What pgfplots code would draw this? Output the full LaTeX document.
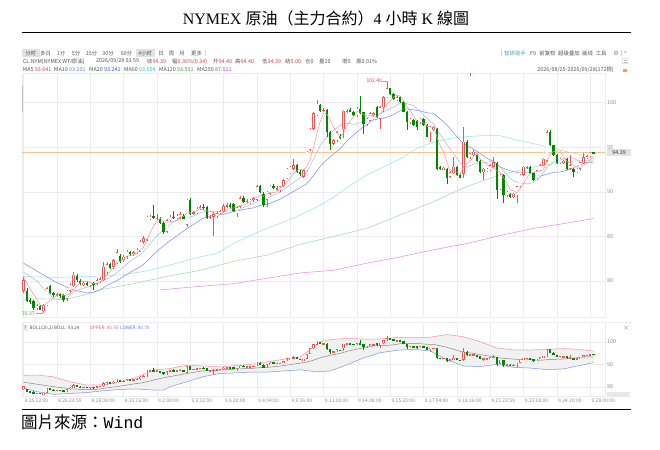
\documentclass[border=0pt]{standalone}
\usepackage{fontspec}
\usepackage{pgfplots}
\usepackage{pgfplotstable}
\pgfplotsset{compat=1.18}

\setmainfont{Noto Sans CJK SC}
\newfontfamily\tcfont{Noto Sans CJK TC}
\newfontfamily\latserif{Liberation Serif}
\newfontfamily\latmono{Liberation Mono}
\newfontfamily\symf{DejaVu Sans}
\newcommand{\sm}{\fontsize{5.4}{6.4}\selectfont}

\definecolor{upred}{RGB}{236,88,88}
\definecolor{dngreen}{RGB}{0,135,0}
\definecolor{gridc}{RGB}{236,236,236}
\definecolor{tickc}{RGB}{140,140,140}
\definecolor{txtc}{RGB}{85,85,85}
\definecolor{valred}{RGB}{226,60,60}
\definecolor{maA}{RGB}{242,150,150}
\definecolor{maB}{RGB}{165,188,222}
\definecolor{maC}{RGB}{120,138,236}
\definecolor{maD}{RGB}{150,226,242}
\definecolor{maE}{RGB}{160,216,160}
\definecolor{maF}{RGB}{226,135,238}
\definecolor{vB}{RGB}{90,143,220}
\definecolor{vC}{RGB}{45,80,240}
\definecolor{vD}{RGB}{40,190,228}
\definecolor{vE}{RGB}{50,170,50}
\definecolor{vF}{RGB}{208,60,224}
\definecolor{pricec}{RGB}{250,196,140}
\definecolor{bup}{RGB}{240,150,160}
\definecolor{blo}{RGB}{125,148,240}
\definecolor{bmid}{RGB}{135,135,135}
\definecolor{bfill}{RGB}{241,241,241}
\definecolor{tabbg}{RGB}{226,226,226}
\definecolor{helpc}{RGB}{70,165,200}
\definecolor{lowc}{RGB}{70,165,70}

% 4h candles: index, open, high, low, close
\pgfplotstableread{
x o h l c
0 78.9 80.5 78.6 80.1
1 78.9 79.2 77.6 77.8
2 77.9 78.1 77.4 77.7
3 77.7 77.9 76.8 77.0
4 77.0 77.4 76.8 77.2
5 77.2 77.3 76.7 76.8
6 76.6 77.4 76.37 77.3
7 77.3 79.3 77.2 79.2
8 79.4 79.6 78.5 78.6
9 78.6 78.8 78.2 78.4
10 78.4 78.7 78.2 78.5
11 78.5 78.6 78.1 78.3
12 78.4 78.5 77.6 77.9
13 78.0 79.0 77.8 78.9
14 78.9 79.8 78.7 79.6
15 79.4 81.0 79.3 80.7
16 80.6 80.8 79.9 80.1
17 80.0 80.2 79.6 79.7
18 79.6 80.0 79.4 79.8
19 79.8 80.0 79.4 79.6
20 79.6 79.9 79.3 79.8
21 79.8 79.9 79.0 79.5
22 79.7 80.3 79.5 80.1
23 80.0 80.4 79.8 80.2
24 80.1 82.1 80.0 81.6
25 81.0 82.1 80.8 81.9
26 81.9 82.0 81.3 81.5
27 81.6 82.5 81.4 82.3
28 82.0 83.6 81.9 83.2
29 82.8 83.0 82.0 82.2
30 82.3 82.9 82.1 82.7
31 82.7 83.5 82.5 83.3
32 83.3 83.4 82.8 83.0
33 83.0 83.4 82.8 83.2
34 83.1 83.7 83.0 83.5
35 83.3 84.6 83.2 84.4
36 84.4 85.0 84.2 84.8
37 84.6 87.3 84.5 87.2
38 87.0 87.4 86.8 87.2
39 87.3 88.5 86.9 87.1
40 87.0 87.5 86.8 87.1
41 87.0 87.2 86.4 86.5
42 86.5 86.7 85.3 85.5
43 85.5 87.0 85.4 86.8
44 86.8 87.4 86.6 87.2
45 87.2 87.9 87.0 87.1
46 87.1 87.5 86.9 87.3
47 87.1 87.7 87.0 87.5
48 87.3 87.5 86.9 87.0
49 86.3 89.2 86.0 89.1
50 89.1 89.3 87.4 87.5
51 87.6 87.9 87.4 87.7
52 87.6 88.3 87.5 88.1
53 88.1 88.5 88.0 88.3
54 88.3 88.6 88.0 88.2
55 88.3 88.4 86.9 87.1
56 87.1 87.4 86.9 87.2
57 87.2 87.7 85.1 87.5
58 87.3 87.8 87.1 87.6
59 87.6 88.0 87.5 87.8
60 87.8 88.6 87.6 88.4
61 88.4 88.7 88.2 88.5
62 88.5 88.7 88.2 88.4
63 88.6 88.8 87.7 87.8
64 87.6 88.4 87.2 88.3
65 88.3 89.5 88.2 89.3
66 89.3 89.5 88.8 88.9
67 88.9 89.2 88.7 89.0
68 88.7 89.2 88.6 89.1
69 89.1 89.4 88.9 89.3
70 89.1 90.8 89.0 90.6
71 90.6 90.8 89.9 90.0
72 89.8 90.0 88.3 88.5
73 89.1 90.1 88.3 90.0
74 89.8 90.8 89.7 90.7
75 90.7 90.9 90.3 90.4
76 90.3 90.6 90.1 90.4
77 90.2 90.7 90.0 90.6
78 90.6 91.4 90.5 91.3
79 91.5 92.7 91.4 92.6
80 92.1 92.9 92.0 92.8
81 92.6 93.7 92.5 93.0
82 93.0 93.1 92.1 92.2
83 92.2 92.4 91.8 92.0
84 91.7 92.5 91.5 92.4
85 92.4 94.6 92.3 94.5
86 94.7 97.2 94.6 97.1
87 97.1 98.9 96.9 98.8
88 98.6 100.3 98.5 99.9
89 99.7 99.9 99.0 99.1
90 99.1 99.4 98.9 99.2
91 99.2 99.3 96.2 96.7
92 96.7 96.8 94.7 95.4
93 95.4 95.9 95.2 95.8
94 95.8 96.8 95.6 96.7
95 96.3 96.5 95.9 96.0
96 97.0 99.2 96.0 99.1
97 99.0 99.3 98.8 99.1
98 99.2 99.4 98.9 99.0
99 99.0 99.1 98.5 98.6
100 98.6 99.5 98.4 99.3
101 99.3 100.7 98.7 98.8
102 98.9 99.0 96.5 97.6
103 97.6 98.3 97.4 98.2
104 98.0 98.9 97.9 98.8
105 98.6 98.9 98.4 98.8
106 99.5 99.6 98.3 98.4
107 98.2 99.6 97.1 99.5
108 99.5 100.7 99.0 100.6
109 100.6 102.4 100.5 101.6
110 101.6 101.7 100.9 101.0
111 101.0 101.1 100.3 100.4
112 100.3 100.7 100.2 100.6
113 100.6 100.7 100.0 100.1
114 100.1 100.2 98.9 99.0
115 99.0 99.1 96.9 97.8
116 97.8 98.3 97.6 98.2
117 98.1 98.2 97.4 97.5
118 98.0 98.1 96.9 97.3
119 97.8 98.3 97.6 98.2
120 98.2 98.3 97.4 97.5
121 97.5 97.6 96.1 96.2
122 96.7 97.4 95.6 97.3
123 96.9 97.4 96.8 97.3
124 97.1 97.2 92.5 92.6
125 92.8 92.9 92.5 92.6
126 92.5 92.8 92.4 92.7
127 92.6 92.7 90.9 91.5
128 91.7 92.3 91.5 92.2
129 92.1 93.9 92.0 92.8
130 92.8 92.9 91.8 91.9
131 91.9 92.0 91.5 91.6
132 92.0 97.3 91.5 95.6
133 95.6 95.8 93.8 93.9
134 93.9 94.4 93.7 94.3
135 94.1 94.7 94.0 94.5
136 94.1 94.2 93.4 93.5
137 93.5 93.6 92.1 92.2
138 92.2 92.7 91.3 92.6
139 92.3 92.7 92.2 92.6
140 92.4 93.1 92.3 93.0
141 92.8 93.9 92.7 93.3
142 93.2 93.3 89.25 90.2
143 90.3 92.0 90.2 91.9
144 91.9 92.0 88.7 89.6
145 89.6 90.1 89.4 90.0
146 89.8 89.9 89.3 89.4
147 89.4 89.9 89.3 89.8
148 89.6 90.7 88.8 90.6
149 90.6 92.0 90.5 91.9
150 91.9 92.9 91.8 92.8
151 92.7 92.9 92.6 92.8
152 92.8 92.9 92.0 92.1
153 92.1 92.2 91.2 91.3
154 91.5 92.5 91.4 92.4
155 92.4 93.1 92.3 93.0
156 93.0 93.8 92.9 93.7
157 93.5 96.9 93.4 96.7
158 96.7 96.9 95.1 95.2
159 95.2 95.3 94.0 94.1
160 94.1 94.2 93.1 93.2
161 93.2 93.8 93.1 93.7
162 93.2 93.6 93.1 93.5
163 93.7 93.8 92.4 92.6
164 92.6 94.1 92.5 93.0
165 92.6 92.7 91.7 92.2
166 92.2 92.7 92.1 92.6
167 92.6 93.4 92.5 93.3
168 93.2 94.3 93.1 93.9
169 93.8 94.1 93.7 94.0
170 94.0 94.5 93.9 94.4
171 94.40 94.40 94.39 94.39
}\kline

\pgfplotstableread{
x y
0 80.5
2 79.1
4 77.96
5 77.30
6 77.20
7 77.50
8 77.82
9 78.06
10 78.40
11 78.60
12 78.34
13 78.40
14 78.64
15 79.08
16 79.44
17 79.80
18 79.98
19 79.98
20 79.80
21 79.68
22 79.76
23 79.84
24 80.24
25 80.66
26 81.06
27 81.50
28 82.10
29 82.22
30 82.38
31 82.74
32 82.88
33 82.88
34 83.14
35 83.48
36 83.78
37 84.62
38 85.42
39 86.14
40 86.68
41 87.02
42 86.68
43 86.60
44 86.62
45 86.62
46 86.78
47 87.18
48 87.22
49 87.60
50 87.68
51 87.76
52 87.88
53 88.14
54 87.96
55 87.88
56 87.78
57 87.66
58 87.52
59 87.44
60 87.70
61 87.96
62 88.14
63 88.18
64 88.28
65 88.46
66 88.54
67 88.66
68 88.92
69 89.12
70 89.38
71 89.60
72 89.50
73 89.68
74 89.96
75 89.92
76 90.00
77 90.42
78 90.68
79 91.06
80 91.54
81 92.06
82 92.38
83 92.52
84 92.48
85 92.82
86 93.64
87 94.96
88 96.54
89 97.88
90 98.82
91 98.74
92 98.06
93 97.24
94 96.76
95 96.12
96 96.60
97 97.34
98 97.98
99 98.36
100 99.02
101 98.96
102 98.66
103 98.50
104 98.54
105 98.44
106 98.36
107 98.74
108 99.22
109 99.78
110 100.22
111 100.62
112 100.84
113 100.74
114 100.22
115 99.58
116 99.14
117 98.52
118 97.96
119 97.80
120 97.74
121 97.34
122 97.30
123 97.30
124 96.18
125 95.20
126 94.50
127 93.34
128 92.32
129 92.36
130 92.22
131 92.00
132 92.82
133 93.16
134 93.46
135 93.98
136 94.36
137 93.68
138 93.42
139 93.08
140 92.78
141 92.74
142 92.34
143 92.20
144 91.60
145 91.00
146 90.22
147 90.14
148 89.88
149 90.34
150 90.90
151 91.58
152 92.04
153 92.18
154 92.28
155 92.32
156 92.50
157 93.42
158 94.20
159 94.54
160 94.58
161 94.58
162 93.94
163 93.42
164 93.20
165 93.00
166 92.78
167 92.74
168 93.00
169 93.20
170 93.64
171 94.00
}\maFive

\pgfplotstableread{
x y
0 81.0
4 80.0
7 78.8
9 78.01
11 77.90
13 78.11
15 78.74
17 79.07
19 79.31
21 79.56
23 79.91
25 80.23
27 80.63
29 81.23
31 81.90
33 82.49
35 82.93
37 83.75
39 84.64
41 85.40
43 86.01
45 86.65
47 86.93
49 87.11
51 87.27
53 87.68
55 87.78
57 87.77
59 87.70
61 87.87
63 87.85
65 88.08
67 88.40
69 88.70
71 89.07
73 89.30
75 89.65
77 89.96
79 90.51
81 91.03
83 91.60
85 92.18
87 93.67
89 95.18
91 96.19
93 96.89
95 97.47
97 97.70
99 97.56
101 97.78
103 98.24
105 98.73
107 98.70
109 99.16
111 99.49
113 99.98
115 99.90
117 99.68
119 99.01
121 98.24
123 97.63
125 96.47
127 95.32
129 94.27
131 93.25
133 92.74
135 93.10
137 93.25
139 93.27
141 93.55
143 92.81
145 91.89
147 91.24
149 90.97
151 90.90
153 91.03
155 91.61
157 92.73
159 93.41
161 93.54
163 93.81
165 93.79
167 93.34
169 93.20
171 93.50
}\maTen

\pgfplotstableread{
x y
0 82.0
5 80.9
10 79.8
15 79.0
19 78.66
21 78.73
23 79.01
25 79.49
27 79.85
29 80.27
31 80.73
33 81.20
35 81.58
37 82.19
39 82.94
41 83.65
43 84.25
45 84.79
47 85.34
49 85.88
51 86.34
53 86.85
55 87.22
57 87.35
59 87.41
61 87.57
63 87.77
65 87.93
67 88.09
69 88.20
71 88.47
73 88.58
75 88.87
77 89.18
79 89.61
81 90.05
83 90.45
85 90.92
87 91.82
89 92.85
91 93.61
93 94.25
95 94.83
97 95.69
99 96.37
101 96.99
103 97.57
105 98.10
107 98.20
109 98.36
111 98.64
113 99.11
115 99.32
117 99.19
119 99.09
121 98.87
123 98.81
125 98.19
127 97.50
129 96.64
131 95.75
133 95.19
135 94.79
137 94.29
139 93.77
141 93.40
143 92.78
145 92.50
147 92.25
149 92.12
151 92.23
153 91.92
155 91.75
157 91.99
159 92.19
161 92.22
163 92.42
165 92.70
167 93.04
169 93.31
171 93.24
}\maTwenty

\pgfplotstableread{
x y
0 80.5
10 80.4
20 80.5
30 80.7
38 81.2
43 81.7
48 82.2
53 82.7
58 83.1
63 84.2
68 85.1
73 85.9
78 86.6
83 87.4
88 88.3
93 89.4
98 90.7
103 91.9
108 92.8
113 93.7
118 94.85
123 95.6
128 96.0
133 96.2
138 96.3
143 96.3
148 95.8
153 95.4
158 95.0
163 94.5
168 94.1
171 93.7
}\maSixty

\pgfplotstableread{
x y
0 78.0
13 78.0
18 78.4
23 79.0
33 79.7
43 80.5
53 81.2
63 82.2
73 82.9
83 84.1
93 85.0
103 85.9
113 87.4
123 88.9
133 90.6
143 91.9
153 92.8
163 93.4
171 93.59
}\maOneTwenty

\pgfplotstableread{
x y
41 79.0
53 79.4
63 79.7
73 80.3
83 80.9
93 81.2
103 82.0
113 82.7
123 83.5
133 84.2
143 85.1
153 85.9
163 86.5
171 87.0
}\maTwoFifty

\pgfplotstableread{
x y
0 85.0
4 85.2
9 84.4
14 82.2
19 80.7
24 80.9
29 82.2
34 84.2
39 87.4
44 88.1
49 89.6
54 89.2
59 88.8
63 89.3
68 89.9
73 91.0
78 92.2
83 93.3
86 96.5
89 100.0
92 100.9
97 101.5
102 101.2
107 101.2
112 101.8
117 101.8
122 102.0
127 103.2
132 102.2
137 100.0
142 97.2
147 96.4
152 96.3
157 96.6
162 96.9
167 96.6
171 95.78
}\bollUp

\pgfplotstableread{
x y
0 79.4
4 77.8
9 76.6
14 77.0
19 77.4
24 78.2
29 78.8
34 79.0
39 78.5
42 78.5
44 80.0
49 82.2
54 84.5
59 85.9
63 86.1
68 86.5
73 86.5
78 87.0
83 87.5
88 86.6
92 87.0
97 89.7
102 92.8
107 95.1
112 96.2
117 96.6
122 95.9
127 92.0
132 89.2
137 89.0
142 89.9
147 88.6
152 88.3
157 87.6
162 87.9
167 89.5
171 90.70
}\bollLo

% band between the bands: upper forward, lower backward
\pgfplotstableread{
x y
0 85.0
4 85.2
9 84.4
14 82.2
19 80.7
24 80.9
29 82.2
34 84.2
39 87.4
44 88.1
49 89.6
54 89.2
59 88.8
63 89.3
68 89.9
73 91.0
78 92.2
83 93.3
86 96.5
89 100.0
92 100.9
97 101.5
102 101.2
107 101.2
112 101.8
117 101.8
122 102.0
127 103.2
132 102.2
137 100.0
142 97.2
147 96.4
152 96.3
157 96.6
162 96.9
167 96.6
171 95.78
171 90.70
167 89.5
162 87.9
157 87.6
152 88.3
147 88.6
142 89.9
137 89.0
132 89.2
127 92.0
122 95.9
117 96.6
112 96.2
107 95.1
102 92.8
97 89.7
92 87.0
88 86.6
83 87.5
78 87.0
73 86.5
68 86.5
63 86.1
59 85.9
54 84.5
49 82.2
44 80.0
42 78.5
39 78.5
34 79.0
29 78.8
24 78.2
19 77.4
14 77.0
9 76.6
4 77.8
0 79.4
}\bollBand

% #1 body width, #2 min half body, #3 inset of the hollow part, #4 hollow width
\newcommand{\candles}[4]{%
  \addplot[draw=none, mark=none,
    x filter/.expression={\thisrow{c}<\thisrow{o} ? nan : x},
    error bars/.cd, y dir=both, y explicit, error mark=none,
    error bar style={draw=upred, line width=0.45pt}]
    table[x=x, y expr={(\thisrow{h}+\thisrow{l})/2}, y error expr={(\thisrow{h}-\thisrow{l})/2}] {\kline};
  \addplot[draw=none, mark=none,
    x filter/.expression={\thisrow{c}<\thisrow{o} ? x : nan},
    error bars/.cd, y dir=both, y explicit, error mark=none,
    error bar style={draw=dngreen, line width=0.45pt}]
    table[x=x, y expr={(\thisrow{h}+\thisrow{l})/2}, y error expr={(\thisrow{h}-\thisrow{l})/2}] {\kline};
  \addplot[draw=none, mark=none,
    x filter/.expression={\thisrow{c}<\thisrow{o} ? nan : x},
    error bars/.cd, y dir=both, y explicit, error mark=none,
    error bar style={draw=upred, line width=#1}]
    table[x=x, y expr={(\thisrow{o}+\thisrow{c})/2}, y error expr={max(abs(\thisrow{c}-\thisrow{o})/2,#2)}] {\kline};
  \addplot[draw=none, mark=none,
    x filter/.expression={\thisrow{c}<\thisrow{o} ? nan : x},
    error bars/.cd, y dir=both, y explicit, error mark=none,
    error bar style={draw=white, line width=#4}]
    table[x=x, y expr={(\thisrow{o}+\thisrow{c})/2}, y error expr={max(abs(\thisrow{c}-\thisrow{o})/2-#3,0)}] {\kline};
  \addplot[draw=none, mark=none,
    x filter/.expression={\thisrow{c}<\thisrow{o} ? x : nan},
    error bars/.cd, y dir=both, y explicit, error mark=none,
    error bar style={draw=dngreen, line width=#1}]
    table[x=x, y expr={(\thisrow{o}+\thisrow{c})/2}, y error expr={max(abs(\thisrow{c}-\thisrow{o})/2,#2)}] {\kline};
}

\pgfplotsset{
  panel/.style={
    scale only axis, width=583pt,
    xmin=-0.45, xmax=174.45,
    axis line style={draw=gridc},
    major tick length=0pt,
    xtick={0,10,...,170},
    xmajorgrids, ymajorgrids,
    grid style={draw=gridc, line width=0.4pt},
    yticklabel pos=right,
    yticklabel style={font=\sm, text=tickc, anchor=west, inner sep=2pt},
    /pgf/number format/assume math mode=true,
  },
}

\begin{document}
\begin{tikzpicture}
\fill[white] (0,0) rectangle (660pt,449pt);

% main price panel
\begin{axis}[panel, at={(22pt,132pt)}, anchor=south west, height=244pt,
  ymin=75.96, ymax=103.33, ytick={80,85,90,95,100}, xticklabels={}]
  \addplot[pricec, line width=0.6pt] coordinates {(-1,94.39) (176,94.39)};
  \addplot[maF, line width=0.5pt] table {\maTwoFifty};
  \addplot[maE, line width=0.5pt] table {\maOneTwenty};
  \addplot[maD, line width=0.5pt] table {\maSixty};
  \addplot[maC, line width=0.5pt] table {\maTwenty};
  \addplot[maB, line width=0.5pt] table {\maTen};
  \candles{2.4pt}{0.05}{0.06}{1.5pt}
  \addplot[maA, line width=0.5pt] table {\maFive};
\end{axis}

% BOLL panel
\begin{axis}[panel, at={(22pt,53pt)}, anchor=south west, height=74pt,
  ymin=75.87, ymax=108.76, ytick={80,90,100},
  xticklabels={8.25 12:00, 8.26 23:59, 8.28 08:00, 8.31 16:00, 9.2 00:00,
    9.3 12:00, 9.6 20:00, 9.8 04:00, 9.9 16:00, 9.11 00:00, 9.14 08:00,
    9.15 20:00, 9.17 04:00, 9.18 16:00, 9.21 23:59, 9.23 08:00, 9.24 20:00,
    9.28 00:00},
  xticklabel style={font=\fontsize{5}{6}\selectfont, text=tickc,
    anchor=north west, inner sep=0pt, xshift=1.2pt, yshift=-2.5pt}]
  \addplot[fill=bfill, draw=none] table {\bollBand};
  \addplot[bup, line width=0.5pt] table {\bollUp};
  \addplot[blo, line width=0.5pt] table {\bollLo};
  \addplot[bmid, line width=0.5pt] table {\maTwenty};
  \candles{2.2pt}{0.22}{0.25}{1.3pt}
\end{axis}

% texts and frame, in picture pixel coordinates (y down)
\begin{scope}[shift={(0pt,449pt)}, x=1pt, y=-1pt]
  \node[font=\fontsize{16}{19}\selectfont, inner sep=0pt] at (326,18)
    {{\latserif NYMEX }{\tcfont 原油（主力合約）}{\latserif 4 }{\tcfont 小時}{\latserif\ K }{\tcfont 線圖}};
  \draw[line width=1.1pt] (22,32.5) -- (631,32.5);
  \draw[line width=1.1pt] (22,409.5) -- (631,409.5);
  \node[anchor=west, inner sep=0pt, font=\fontsize{16.5}{19}\selectfont] at (21,422.5)
    {{\tcfont 圖片來源：}{\latmono Wind}};

  \fill[tabbg] (22,49) rectangle (39.5,57.5);
  \fill[tabbg] (136,49) rectangle (154.5,57.5);
  \draw[gray!35, line width=0.4pt] (205,50) -- (205,56.5);
  \draw[gray!35, line width=0.4pt] (501,50) -- (501,56.5);
  \draw[gray!35, line width=0.4pt] (621,50) -- (621,56.5);
  \begin{scope}[every node/.style={inner sep=0pt, font=\sm, text=txtc}]
    \node at (30.7,53.2) {分时};
    \node at (45.5,53.2) {多日};
    \node at (61,53.2) {1分};
    \node at (76,53.2) {5分};
    \node at (91.5,53.2) {15分};
    \node at (108,53.2) {30分};
    \node at (126.5,53.2) {60分};
    \node at (145.2,53.2) {4小时};
    \node at (161,53.2) {日};
    \node at (171.5,53.2) {周};
    \node at (182,53.2) {月};
    \node at (196.5,53.2) {更多};
    \node[text=helpc] at (515,53.2) {智研助手};
    \node at (533,53.2) {F9};
    \node at (547.5,53.2) {前复权};
    \node at (569,53.2) {超级叠加};
    \node at (587.5,53.2) {画线};
    \node at (601,53.2) {工具};
    \node[font=\symf\fontsize{6}{7}\selectfont, text=gray] at (616,53.2) {⚙};
    \node[text=gray] at (625.5,53.2) {>};

    \node[anchor=west] at (22.7,61.3) {CL.NYM[NYMEX WTI原油]};
    \node[anchor=west] at (96,61.3) {2026/09/28 03:59};
    \node[anchor=west] at (147,61.3) {收\textcolor{valred}{94.39}};
    \node[anchor=west] at (172,61.3) {幅\textcolor{valred}{0.36\%(0.34)}};
    \node[anchor=west] at (213,61.3) {开\textcolor{valred}{94.40}};
    \node[anchor=west] at (235,61.3) {高\textcolor{valred}{94.40}};
    \node[anchor=west] at (262,61.3) {低\textcolor{valred}{94.39}};
    \node[anchor=west] at (285,61.3) {结\textcolor{valred}{0.00}};
    \node[anchor=west] at (305,61.3) {仓0};
    \node[anchor=west] at (319,61.3) {量10};
    \node[anchor=west] at (342,61.3) {增0};
    \node[anchor=west] at (356,61.3) {振0.01\%};

    \node[anchor=west] at (22.7,69.3) {MA5 \textcolor{valred}{93.641}};
    \node[anchor=west] at (54,69.3) {MA10 \textcolor{vB}{93.201}};
    \node[anchor=west] at (89,69.3) {MA20 \textcolor{vC}{93.241}};
    \node[anchor=west] at (124,69.3) {MA60 \textcolor{vD}{93.654}};
    \node[anchor=west] at (159,69.3) {MA120 \textcolor{vE}{93.591}};
    \node[anchor=west] at (197,69.3) {MA250 \textcolor{vF}{87.011}};
    \node[anchor=east] at (614,69.3) {2026/08/25-2026/09/28(172根)};

    \node[anchor=east, text=valred, font=\fontsize{5}{6}\selectfont] at (382,81) {102.40};
    \node[anchor=west, text=lowc, font=\fontsize{5}{6}\selectfont] at (22,313.3) {76.37};
    \fill[gray!22] (607,149) rectangle (631,156.5);
    \node[text=black!80] at (619,152.8) {94.39};

    \fill[gray!15] (22.5,325.2) rectangle (27.8,330.8);
    \node[font=\fontsize{4.5}{5}\selectfont] at (25.2,328) {?};
    \node[anchor=west, font=\fontsize{4.6}{5.5}\selectfont] at (29.5,328) {BOLL(20,2) BOLL: 93.24};
    \node[anchor=west, font=\fontsize{4.6}{5.5}\selectfont, text={rgb,255:red,232;green,95;blue,115}] at (89.5,328) {UPPER: 95.78};
    \node[anchor=west, font=\fontsize{4.6}{5.5}\selectfont, text={rgb,255:red,95;green,125;blue,240}] at (120,328) {LOWER: 90.70};
    \node[text=gray, font=\fontsize{6}{7}\selectfont] at (626,328) {×};
  \end{scope}
  \draw[gray!70, line width=0.4pt] (382,81) -- (388,81);
  \draw[gray!70, line width=0.4pt] (36,313.5) -- (42.5,313.5);
  \draw[gray!45, line width=0.8pt] (22,85) -- (22,112);
  \fill[upred] (469.6,73.5) rectangle (471,76.5);
  \draw[gridc, line width=0.5pt] (22,322) -- (632,322);
  \fill[gray!18] (607,392) rectangle (630,397.5);
  \draw[gray!55, line width=0.4pt, rounded corners=0.6pt] (622.5,58.3) rectangle (628,63.8);
  \draw[gray!55, line width=0.3pt] (623.7,60.2) -- (626.8,60.2) (623.7,61.9) -- (626.8,61.9);
  \fill[orange!75] (623.2,69.2) rectangle (627.2,72.5);
  \draw[orange!75, line width=0.5pt] (624,69.2) arc (180:0:1.2);
\end{scope}
\end{tikzpicture}
\end{document}
